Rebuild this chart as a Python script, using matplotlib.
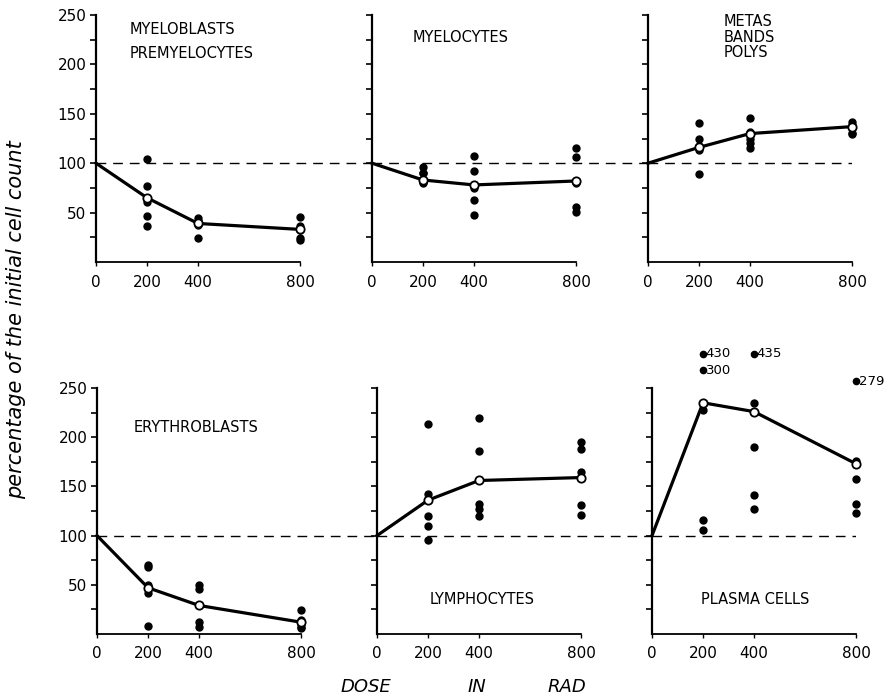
import matplotlib
matplotlib.use("Agg")
import matplotlib.pyplot as plt

# ---------------- data ----------------
doses = [0, 200, 400, 800]
dose_ticks = [0, 200, 400, 800]
y_ticks_major = [50, 100, 150, 200, 250]
y_ticks_minor = [25, 50, 75, 100, 125, 150, 175, 200, 225, 250]

myeloblasts_200 = [104, 77, 61, 47, 36]
myeloblasts_400 = [45, 42, 40, 37, 24]
myeloblasts_800 = [46, 36, 32, 24, 22]
myeloblasts_mean = [100, 65, 39, 33]

myelocytes_200 = [96, 90, 90, 81, 80]
myelocytes_400 = [107, 92, 75, 63, 48]
myelocytes_800 = [115, 106, 80, 56, 51]
myelocytes_mean = [100, 83, 78, 82]

metas_200 = [141, 125, 117, 113, 89]
metas_400 = [146, 132, 125, 120, 115]
metas_800 = [142, 139, 136, 131, 130]
metas_mean = [100, 116, 130, 137]

erythro_200 = [70, 68, 50, 42, 8]
erythro_400 = [50, 46, 29, 12, 7]
erythro_800 = [24, 14, 10, 7, 6]
erythro_mean = [100, 47, 29, 12]

lympho_200 = [213, 142, 120, 110, 96]
lympho_400 = [220, 186, 132, 127, 120]
lympho_800 = [195, 188, 165, 131, 121]
lympho_mean = [100, 136, 156, 159]

plasma_200 = [228, 116, 106]
plasma_400 = [235, 190, 141, 127]
plasma_800 = [176, 158, 132, 123]
plasma_mean = [100, 235, 226, 173]

# off-scale values, drawn above the axis top with their value written
plasma_outlier_doses = [200, 200, 400, 800]
plasma_outlier_values = [430, 300, 435, 279]
plasma_outlier_plot_y = [285, 268, 285, 257]

panels = [
    ("MYELOBLASTS\nPREMYELOCYTES", myeloblasts_200, myeloblasts_400, myeloblasts_800, myeloblasts_mean),
    ("MYELOCYTES", myelocytes_200, myelocytes_400, myelocytes_800, myelocytes_mean),
    ("METAS\nBANDS\nPOLYS", metas_200, metas_400, metas_800, metas_mean),
    ("ERYTHROBLASTS", erythro_200, erythro_400, erythro_800, erythro_mean),
    ("LYMPHOCYTES", lympho_200, lympho_400, lympho_800, lympho_mean),
    ("PLASMA CELLS", plasma_200, plasma_400, plasma_800, plasma_mean),
]

# ---------------- layout (pixels) ----------------
W, H = 884, 700
fig = plt.figure(figsize=(W / 100, H / 100), dpi=100)
plt.rcParams['font.family'] = ['DejaVu Sans']

rows = [
    dict(lefts=[96, 372, 648], zero=262, top=15),
    dict(lefts=[97, 377, 652], zero=634, top=388),
]
span800 = 204.0

# label placement in axes-data coords: (x, y, ha, va, linespacing)
label_pos = [
    (132, 243, 'left', 'top', 1.75),
    (160, 235, 'left', 'top', 1.1),
    (295, 251, 'left', 'top', 1.05),
    (142, 210, 'left', 'center', 1.1),
    (205, 35, 'left', 'center', 1.1),
    (192, 35, 'left', 'center', 1.1),
]

axes = []
for r, row in enumerate(rows):
    for c in range(3):
        left = row['lefts'][c]
        right = row['lefts'][c + 1] if c < 2 else left + span800
        ax = fig.add_axes([left / W, (H - row['zero']) / H,
                           (right - left) / W, (row['zero'] - row['top']) / H])
        ax.set_xlim(0, 800 * (right - left) / span800)
        ax.set_ylim(0, 250)
        ax.patch.set_alpha(0)
        for s in ['top', 'right']:
            ax.spines[s].set_visible(False)
        ax.spines['left'].set_linewidth(1.6)
        ax.spines['bottom'].set_linewidth(1.3)
        ax.spines['bottom'].set_bounds(0, 800)
        ax.set_xticks(dose_ticks)
        ax.set_xticklabels([str(d) for d in dose_ticks], fontsize=11)
        ax.set_yticks(y_ticks_minor)
        if c == 0:
            ax.set_yticklabels([str(v) if v in y_ticks_major else '' for v in y_ticks_minor],
                               fontsize=11)
        else:
            ax.set_yticklabels([])
        ax.tick_params(axis='y', direction='out', length=4, width=1.2, pad=3)
        ax.tick_params(axis='x', direction='out', length=3, width=1.0, pad=6)
        axes.append(ax)

for i, (ax, (name, d200, d400, d800, mean)) in enumerate(zip(axes, panels)):
    ax.axhline(100, color='black', lw=1.0, dashes=(7, 5), zorder=1)
    ax.plot(doses, mean, color='black', lw=2.3, zorder=2, clip_on=False)
    for dose, vals in zip(doses[1:], [d200, d400, d800]):
        ax.plot([dose] * len(vals), vals, 'o', color='black', ms=5,
                zorder=3, clip_on=False)
    ax.plot(doses[1:], mean[1:], 'o', mfc='white', mec='black', mew=1.3,
            ms=6, zorder=4, clip_on=False)
    lx, ly, ha, va, ls = label_pos[i]
    ax.text(lx, ly, name, fontsize=10.5, ha=ha, va=va, linespacing=ls)

# plasma cells off-scale values
axp = axes[5]
axp.plot(plasma_outlier_doses, plasma_outlier_plot_y, 'o', color='black', ms=4.5,
         clip_on=False, zorder=3)
for d, v, py in zip(plasma_outlier_doses, plasma_outlier_values, plasma_outlier_plot_y):
    axp.annotate(str(v), (d, py), xytext=(2, 0), textcoords='offset points',
                 fontsize=9.5, va='center', ha='left', annotation_clip=False)

# axis titles
fig.text(16 / W, 1 - 320 / H, "percentage of the initial cell count", rotation=90,
         style='italic', fontsize=15, ha='center', va='center')
for word, xc in [("DOSE", 366), ("IN", 477), ("RAD", 567)]:
    fig.text(xc / W, 1 - 687 / H, word, style='italic', fontsize=13,
             ha='center', va='center')

fig.savefig("out.png", dpi=100)
